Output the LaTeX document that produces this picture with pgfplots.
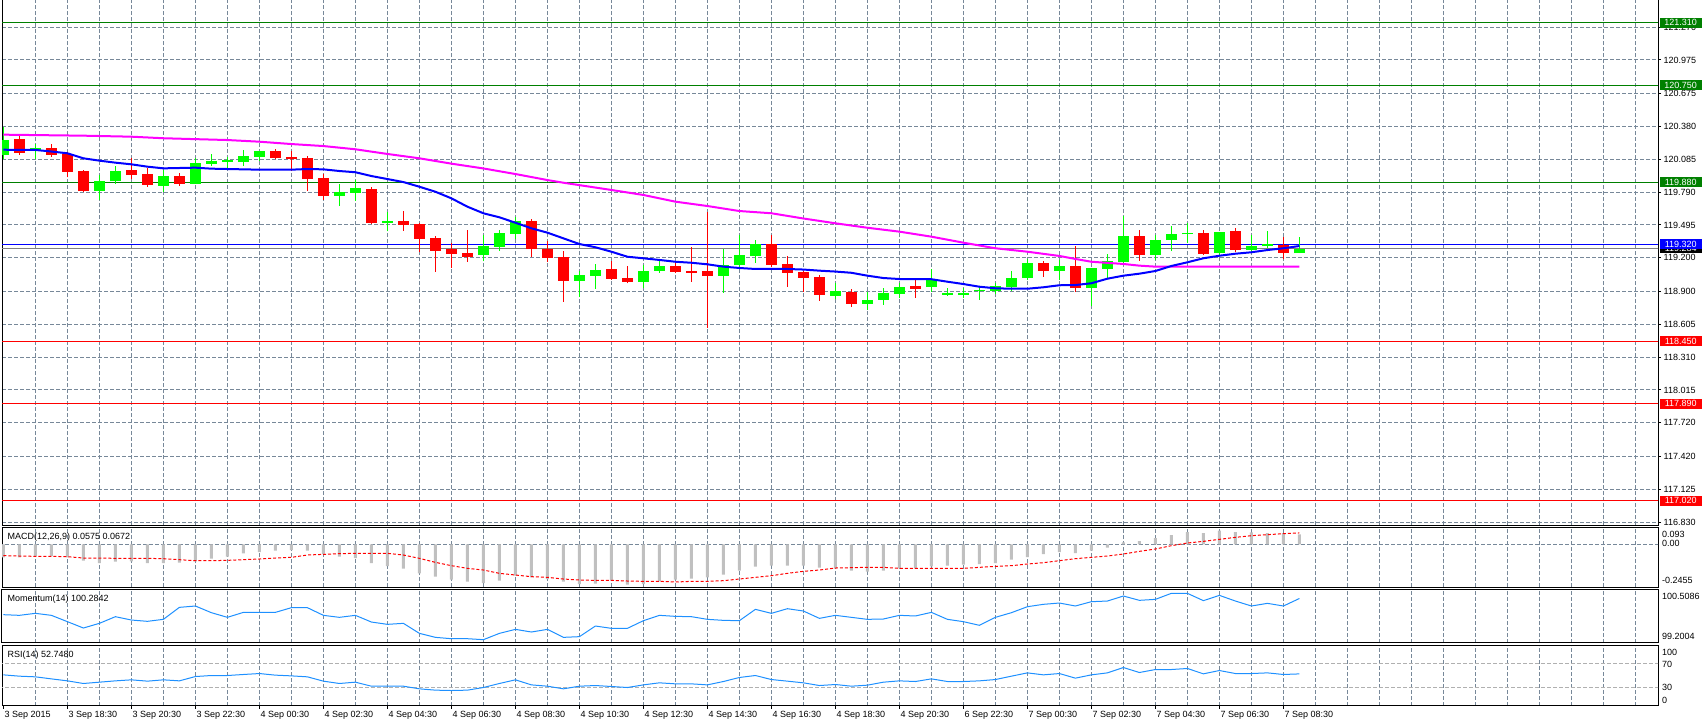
\documentclass[border=0pt]{standalone}
\usepackage{fontspec}
\setmainfont{Liberation Sans}
\usepackage{pgfplots}
\usepackage{pgfplotstable}
\pgfplotsset{compat=1.18}

\definecolor{gridc}{RGB}{119,136,153}
\definecolor{bull}{RGB}{0,255,0}
\definecolor{bear}{RGB}{255,0,0}
\definecolor{lvgreen}{RGB}{0,128,0}
\definecolor{lvblue}{RGB}{0,0,255}
\definecolor{lvred}{RGB}{255,0,0}
\definecolor{bidgray}{RGB}{128,128,128}
\definecolor{macdgray}{RGB}{192,192,192}
\definecolor{dodger}{RGB}{30,144,255}
\definecolor{lvlgray}{RGB}{176,176,176}
\definecolor{maBlue}{RGB}{0,0,255}
\definecolor{maMag}{RGB}{255,0,255}

% bullish candles: index, body low, body high, low, high
\pgfplotstableread{
i bl bh l h
0 120.125 120.257 120.084 120.377
2 120.168 120.186 120.084 120.221
6 119.802 119.889 119.716 119.943
7 119.889 119.979 119.865 120.024
10 119.847 119.934 119.793 119.988
12 119.865 120.051 119.865 120.093
13 120.045 120.069 120.024 120.132
14 120.060 120.075 120.006 120.107
15 120.063 120.114 120.024 120.168
16 120.105 120.159 120.072 120.159
21 119.758 119.793 119.665 119.863
22 119.784 119.827 119.713 119.898
24 119.512 119.527 119.438 119.609
30 119.228 119.309 119.169 119.405
31 119.300 119.423 119.264 119.450
32 119.417 119.531 119.372 119.564
36 118.995 119.046 118.851 119.085
37 119.040 119.094 118.923 119.145
40 118.986 119.082 118.932 119.136
41 119.085 119.127 119.067 119.187
45 119.040 119.136 118.887 119.277
46 119.136 119.226 119.115 119.405
47 119.219 119.324 119.156 119.360
52 118.860 118.903 118.833 118.974
54 118.789 118.822 118.735 118.896
55 118.824 118.885 118.780 118.929
56 118.878 118.938 118.840 118.972
58 118.938 119.010 118.894 119.100
59 118.868 118.883 118.858 118.929
60 118.868 118.883 118.842 118.929
61 118.900 118.915 118.822 118.947
62 118.903 118.947 118.878 118.972
63 118.938 119.019 118.903 119.082
64 119.019 119.154 119.001 119.190
66 119.082 119.127 119.001 119.181
68 118.929 119.109 118.768 119.109
69 119.100 119.172 119.010 119.235
70 119.165 119.396 119.136 119.575
72 119.226 119.360 119.181 119.405
73 119.360 119.414 119.261 119.486
74 119.411 119.426 119.331 119.513
76 119.246 119.432 119.226 119.432
78 119.273 119.309 119.255 119.405
79 119.306 119.321 119.288 119.441
81 119.243 119.277 119.243 119.390
}\bulltab

% bearish candles: index, body low, body high, low, high
\pgfplotstableread{
i bl bh l h
1 120.143 120.266 120.125 120.296
3 120.125 120.186 120.107 120.221
4 119.973 120.134 119.923 120.150
5 119.802 119.979 119.791 119.988
8 119.943 119.988 119.910 120.098
9 119.856 119.952 119.838 120.003
11 119.865 119.934 119.847 119.961
17 120.098 120.159 120.084 120.177
18 120.087 120.105 119.982 120.159
19 119.907 120.096 119.802 120.114
20 119.758 119.916 119.719 119.952
23 119.513 119.818 119.504 119.836
25 119.495 119.531 119.441 119.620
26 119.372 119.504 119.255 119.510
27 119.264 119.378 119.076 119.396
28 119.237 119.277 119.112 119.331
29 119.210 119.243 119.165 119.450
33 119.279 119.531 119.210 119.549
34 119.201 119.279 119.165 119.351
35 118.995 119.208 118.807 119.261
38 119.013 119.100 119.004 119.174
39 118.986 119.022 118.972 119.127
42 119.076 119.127 119.067 119.174
43 119.067 119.085 118.986 119.297
44 119.040 119.085 118.573 119.614
48 119.136 119.324 119.115 119.405
49 119.067 119.145 118.941 119.217
50 119.022 119.073 118.896 119.085
51 118.867 119.028 118.816 119.046
53 118.789 118.894 118.762 118.918
57 118.923 118.947 118.842 119.010
65 119.085 119.154 119.031 119.172
67 118.929 119.127 118.896 119.309
71 119.226 119.396 119.174 119.450
75 119.235 119.423 119.226 119.450
77 119.273 119.441 119.255 119.468
80 119.246 119.313 119.192 119.390
}\beartab

\tikzset{box/.style={anchor=west, text=white, minimum width=42pt, minimum height=10pt, inner sep=0pt, font=\fontsize{9}{10.8}\selectfont}}

\begin{document}
\begin{tikzpicture}[font=\fontsize{9}{10.8}\selectfont]
\useasboundingbox (0pt,0pt) rectangle (1702pt,-724pt);
\pgfplotsset{
 panel/.style={
  scale only axis, width=1656pt,
  xmin=-0.0875, xmax=103.4125,
  axis line style={black, line width=1pt},
  xtick={2,4,...,102}, xticklabels={},
  xmajorgrids,
  major grid style={gridc, dash pattern=on 4pt off 2pt, line width=1pt},
  minor grid style={gridc, dash pattern=on 4pt off 2pt, line width=1pt},
  tick align=outside, major tick length=3pt, minor tick length=0pt,
  xtick style={draw=none},
  ytick=\empty,
  clip mode=individual,
  tick label style={font=\fontsize{9}{10.8}\selectfont, text=black},
 },
}

% ---------------- main price panel ----------------
\begin{axis}[panel, at={(2pt,2pt)}, anchor=north west, height=527pt,
  ymin=116.8031, ymax=121.5312,
  ytick={116.830,117.125,117.420,117.720,118.015,118.310,118.605,118.900,119.200,119.495,119.790,120.085,120.380,120.675,120.975,121.270},
  yticklabels={116.830,117.125,117.420,117.720,118.015,118.310,118.605,118.900,119.200,119.495,119.790,120.085,120.380,120.675,120.975,121.270},
  ymajorgrids, ytick pos=right, yticklabel pos=right,
  ytick style={draw=black, line width=1pt},
  yticklabel style={anchor=west, inner sep=2.5pt},
]
% horizontal levels
\addplot[lvgreen, line width=1pt] coordinates {(-1,121.310) (105,121.310)};
\addplot[lvgreen, line width=1pt] coordinates {(-1,120.750) (105,120.750)};
\addplot[lvgreen, line width=1pt] coordinates {(-1,119.880) (105,119.880)};
\addplot[lvblue, line width=1pt] coordinates {(-1,119.320) (105,119.320)};
\addplot[bidgray, line width=1pt] coordinates {(-1,119.284) (105,119.284)};
\addplot[lvred, line width=1pt] coordinates {(-1,118.450) (105,118.450)};
\addplot[lvred, line width=1pt] coordinates {(-1,117.890) (105,117.890)};
\addplot[lvred, line width=1pt] coordinates {(-1,117.020) (105,117.020)};
% wicks
\addplot[draw=none, forget plot, error bars/.cd, y dir=plus, y explicit, error mark=none,
  error bar style={draw=bull, line width=1pt, solid}]
  table[x=i, y=l, y error plus expr=\thisrow{h}-\thisrow{l}] {\bulltab};
\addplot[draw=none, forget plot, error bars/.cd, y dir=plus, y explicit, error mark=none,
  error bar style={draw=bear, line width=1pt, solid}]
  table[x=i, y=l, y error plus expr=\thisrow{h}-\thisrow{l}] {\beartab};
% bodies
\addplot[draw=none, forget plot, error bars/.cd, y dir=plus, y explicit, error mark=none,
  error bar style={draw=bull, line width=11pt, solid}]
  table[x=i, y=bl, y error plus expr=\thisrow{bh}-\thisrow{bl}] {\bulltab};
\addplot[draw=none, forget plot, error bars/.cd, y dir=plus, y explicit, error mark=none,
  error bar style={draw=bear, line width=11pt, solid}]
  table[x=i, y=bl, y error plus expr=\thisrow{bh}-\thisrow{bl}] {\beartab};
% moving averages
\addplot[maMag, line width=2pt] coordinates {
(0,120.305)(5,120.296)(8,120.287)(10,120.273)(14,120.257)(16,120.242)(18,120.221)(20,120.203)
(22,120.174)(24,120.132)(26,120.093)(28,120.045)(30,120.002)(32,119.952)(34,119.898)(35,119.874)
(38,119.809)(40,119.764)(42,119.704)(44,119.665)(46,119.620)(48,119.600)(50,119.553)(52,119.510)
(54,119.470)(56,119.435)(58,119.390)(60,119.336)(62,119.286)(64,119.255)(66,119.217)(67,119.190)
(68,119.165)(70,119.145)(71,119.130)(72,119.121)(81,119.121)};
\addplot[maBlue, line width=2pt] coordinates {
(0,120.170)(1,120.169)(2,120.168)(3,120.154)(4,120.138)(5,120.093)(6,120.072)(7,120.054)(8,120.039)
(9,120.018)(10,120.003)(11,120.006)(12,120.009)(13,120.000)(14,119.997)(15,119.994)(16,119.991)
(17,119.991)(18,119.991)(19,119.997)(20,119.994)(21,119.979)(22,119.968)(23,119.934)(24,119.907)
(25,119.880)(26,119.838)(27,119.793)(28,119.734)(29,119.659)(30,119.600)(31,119.564)(32,119.515)
(33,119.465)(34,119.426)(35,119.375)(36,119.324)(37,119.295)(38,119.255)(39,119.210)(40,119.196)
(41,119.181)(42,119.165)(43,119.156)(44,119.142)(45,119.121)(46,119.109)(47,119.100)(48,119.100)
(49,119.100)(50,119.095)(51,119.085)(52,119.077)(53,119.066)(54,119.040)(55,119.019)(56,119.010)
(57,119.010)(58,119.008)(59,118.986)(60,118.965)(61,118.941)(62,118.927)(63,118.923)(64,118.923)
(65,118.936)(66,118.954)(67,118.956)(68,118.972)(69,119.013)(70,119.040)(71,119.058)(72,119.082)
(73,119.127)(74,119.160)(75,119.196)(76,119.219)(77,119.237)(78,119.250)(79,119.270)(80,119.286)
(81,119.306)};
\coordinate (b1) at (axis cs:103.4125,121.310);
\coordinate (b2) at (axis cs:103.4125,120.750);
\coordinate (b3) at (axis cs:103.4125,119.880);
\coordinate (b4) at (axis cs:103.4125,119.320);
\coordinate (b5) at (axis cs:103.4125,119.284);
\coordinate (b6) at (axis cs:103.4125,118.450);
\coordinate (b7) at (axis cs:103.4125,117.890);
\coordinate (b8) at (axis cs:103.4125,117.020);
\end{axis}

\node[box, fill=lvgreen] at ([xshift=1.5pt]b1) {121.310};
\node[box, fill=lvgreen] at ([xshift=1.5pt]b2) {120.750};
\node[box, fill=lvgreen] at ([xshift=1.5pt]b3) {119.880};
\node[box, fill=black] at ([xshift=1.5pt]b5) {119.284};
\node[box, fill=lvblue] at ([xshift=1.5pt]b4) {119.320};
\node[box, fill=lvred] at ([xshift=1.5pt]b6) {118.450};
\node[box, fill=lvred] at ([xshift=1.5pt]b7) {117.890};
\node[box, fill=lvred] at ([xshift=1.5pt]b8) {117.020};

% ---------------- MACD panel ----------------
\begin{axis}[panel, at={(2pt,-527.5pt)}, anchor=north west, height=59.5pt,
  ymin=-0.2432, ymax=0.0960]
\addplot[gridc, dash pattern=on 4pt off 2pt, line width=1pt] coordinates {(-1,0) (105,0)};
\addplot[ybar, bar width=3pt, fill=macdgray, draw=none] coordinates {
(0,-0.0741)(1,-0.0741)(2,-0.0665)(3,-0.0665)(4,-0.0741)(5,-0.0931)(6,-0.1064)(7,-0.0988)(8,-0.0969)
(9,-0.1064)(10,-0.1064)(11,-0.1045)(12,-0.0969)(13,-0.0817)(14,-0.0703)(15,-0.0513)(16,-0.0437)
(17,-0.0361)(18,-0.0323)(19,-0.0361)(20,-0.0551)(21,-0.0703)(22,-0.0779)(23,-0.1064)(24,-0.1235)
(25,-0.1387)(26,-0.1653)(27,-0.1843)(28,-0.2014)(29,-0.2128)(30,-0.2204)(31,-0.2071)(32,-0.1786)
(33,-0.1881)(34,-0.1976)(35,-0.2128)(36,-0.2261)(37,-0.2242)(38,-0.2071)(39,-0.2299)(40,-0.2261)
(41,-0.2109)(42,-0.2014)(43,-0.1957)(44,-0.1881)(45,-0.1729)(46,-0.1501)(47,-0.1273)(48,-0.1216)
(49,-0.1216)(50,-0.1216)(51,-0.1330)(52,-0.1387)(53,-0.1501)(54,-0.1558)(55,-0.1501)(56,-0.1368)
(57,-0.1368)(58,-0.1254)(59,-0.1216)(60,-0.1159)(61,-0.1121)(62,-0.1064)(63,-0.0874)(64,-0.0722)
(65,-0.0551)(66,-0.0437)(67,-0.0494)(68,-0.0361)(69,-0.0190)(70,0.0114)(71,0.0190)(72,0.0361)
(73,0.0532)(74,0.0703)(75,0.0646)(76,0.0779)(77,0.0703)(78,0.0684)(79,0.0646)(80,0.0646)(81,0.0575)};
\addplot[bear, line width=1pt, dash pattern=on 3pt off 2pt] coordinates {
(0,-0.0646)(1,-0.0665)(2,-0.0684)(3,-0.0684)(4,-0.0703)(5,-0.0779)(6,-0.0779)(7,-0.0798)(8,-0.0798)
(9,-0.0798)(10,-0.0817)(11,-0.0874)(12,-0.0931)(13,-0.0931)(14,-0.0912)(15,-0.0874)(16,-0.0836)
(17,-0.0779)(18,-0.0741)(19,-0.0608)(20,-0.0570)(21,-0.0532)(22,-0.0513)(23,-0.0513)(24,-0.0513)
(25,-0.0608)(26,-0.0798)(27,-0.1026)(28,-0.1216)(29,-0.1368)(30,-0.1463)(31,-0.1653)(32,-0.1748)
(33,-0.1843)(34,-0.1881)(35,-0.1976)(36,-0.2033)(37,-0.2052)(38,-0.2052)(39,-0.2090)(40,-0.2109)
(41,-0.2109)(42,-0.2147)(43,-0.2109)(44,-0.2109)(45,-0.2071)(46,-0.1976)(47,-0.1881)(48,-0.1786)
(49,-0.1653)(50,-0.1539)(51,-0.1463)(52,-0.1349)(53,-0.1330)(54,-0.1311)(55,-0.1311)(56,-0.1368)
(57,-0.1368)(58,-0.1368)(59,-0.1368)(60,-0.1368)(61,-0.1311)(62,-0.1254)(63,-0.1216)(64,-0.1121)
(65,-0.1045)(66,-0.0931)(67,-0.0817)(68,-0.0741)(69,-0.0665)(70,-0.0551)(71,-0.0399)(72,-0.0266)
(73,-0.0076)(74,0.0076)(75,0.0171)(76,0.0285)(77,0.0399)(78,0.0494)(79,0.0551)(80,0.0608)(81,0.0650)};
\end{axis}

% ---------------- Momentum panel ----------------
\begin{axis}[panel, at={(2pt,-589.5pt)}, anchor=north west, height=53pt,
  ymin=99.2045, ymax=100.5045]
\addplot[dodger, line width=1pt] coordinates {
(0,99.887)(1,99.871)(2,99.920)(3,99.871)(4,99.716)(5,99.560)(6,99.675)(7,99.838)(8,99.756)
(9,99.724)(10,99.773)(11,100.067)(12,100.100)(13,99.936)(14,99.822)(15,99.944)(16,99.944)
(17,99.944)(18,100.059)(19,100.059)(20,99.871)(21,99.822)(22,99.871)(23,99.707)(24,99.650)
(25,99.675)(26,99.429)(27,99.331)(28,99.298)(29,99.298)(30,99.274)(31,99.429)(32,99.527)
(33,99.462)(34,99.527)(35,99.331)(36,99.348)(37,99.609)(38,99.552)(39,99.552)(40,99.740)
(41,99.871)(42,99.846)(43,99.838)(44,99.773)(45,99.748)(46,99.740)(47,100.018)(48,99.920)
(49,100.034)(50,99.977)(51,99.797)(52,99.871)(53,99.822)(54,99.773)(55,99.781)(56,99.871)
(57,99.855)(58,99.944)(59,99.773)(60,99.716)(61,99.626)(62,99.822)(63,99.936)(64,100.083)
(65,100.141)(66,100.173)(67,100.100)(68,100.206)(69,100.222)(70,100.345)(71,100.239)(72,100.263)
(73,100.411)(74,100.411)(75,100.231)(76,100.361)(77,100.222)(78,100.100)(79,100.165)(80,100.100)
(81,100.284)};
\end{axis}

% ---------------- RSI panel ----------------
\begin{axis}[panel, at={(2pt,-645.5pt)}, anchor=north west, height=60pt,
  ymin=0, ymax=100,
  xtick={0,4,...,80},
  xticklabels={3 Sep 2015,3 Sep 18:30,3 Sep 20:30,3 Sep 22:30,4 Sep 00:30,4 Sep 02:30,4 Sep 04:30,4 Sep 06:30,4 Sep 08:30,4 Sep 10:30,4 Sep 12:30,4 Sep 14:30,4 Sep 16:30,4 Sep 18:30,4 Sep 20:30,6 Sep 22:30,7 Sep 00:30,7 Sep 02:30,7 Sep 04:30,7 Sep 06:30,7 Sep 08:30},
  xmajorgrids=false,
  minor xtick={2,4,...,102}, xminorgrids,
  xtick pos=left,
  xtick style={draw=black, line width=1pt},
  xticklabel style={anchor=north west, inner sep=1pt, yshift=-1.5pt},
]
\addplot[lvlgray, dash pattern=on 4pt off 2pt, line width=1pt] coordinates {(-1,70) (105,70)};
\addplot[lvlgray, dash pattern=on 4pt off 2pt, line width=1pt] coordinates {(-1,30) (105,30)};
\addplot[dodger, line width=1pt] coordinates {
(0,51.1)(1,48.9)(2,47.8)(3,44.4)(4,41.1)(5,36.7)(6,38.9)(7,41.1)(8,42.8)(9,40.6)(10,42.8)
(11,41.1)(12,48.3)(13,50.0)(14,50.0)(15,51.7)(16,53.3)(17,50.6)(18,49.4)(19,47.8)(20,40.6)
(21,36.7)(22,38.9)(23,32.2)(24,32.2)(25,32.2)(26,27.8)(27,25.6)(28,25.0)(29,25.6)(30,30.0)
(31,36.7)(32,42.8)(33,34.4)(34,32.2)(35,27.8)(36,32.2)(37,33.3)(38,31.7)(39,30.0)(40,34.4)
(41,37.8)(42,36.1)(43,36.1)(44,34.4)(45,40.0)(46,46.7)(47,50.0)(48,43.3)(49,40.6)(50,37.8)
(51,33.3)(52,35.0)(53,32.2)(54,33.9)(55,38.9)(56,41.1)(57,40.0)(58,44.4)(59,40.0)(60,40.0)
(61,41.1)(62,43.3)(63,48.9)(64,54.4)(65,51.1)(66,53.3)(67,45.6)(68,51.1)(69,54.4)(70,63.3)
(71,55.0)(72,60.0)(73,60.0)(74,61.7)(75,52.8)(76,58.3)(77,53.3)(78,53.3)(79,54.4)(80,51.7)
(81,52.7)};
\end{axis}

% panel titles
\node[anchor=base west, inner sep=0pt] at (7.5pt,-539.5pt) {MACD(12,26,9) 0.0575 0.0672};
\node[anchor=base west, inner sep=0pt] at (7.5pt,-601.9pt) {Momentum(14) 100.2842};
\node[anchor=base west, inner sep=0pt] at (7.5pt,-657.9pt) {RSI(14) 52.7480};
% right scale of the sub-panels
\node[anchor=base west, inner sep=0pt] at (1662pt,-537.5pt) {0.093};
\node[anchor=base west, inner sep=0pt] at (1662pt,-546.5pt) {0.00};
\node[anchor=base west, inner sep=0pt] at (1662pt,-583.9pt) {-0.2455};
\node[anchor=base west, inner sep=0pt] at (1662pt,-599.9pt) {100.5086};
\node[anchor=base west, inner sep=0pt] at (1662pt,-639.9pt) {99.2004};
\node[anchor=base west, inner sep=0pt] at (1662pt,-655.9pt) {100};
\node[anchor=base west, inner sep=0pt] at (1662pt,-667.5pt) {70};
\node[anchor=base west, inner sep=0pt] at (1662pt,-690.5pt) {30};
\node[anchor=base west, inner sep=0pt] at (1662pt,-703.2pt) {0};
\end{tikzpicture}
\end{document}
